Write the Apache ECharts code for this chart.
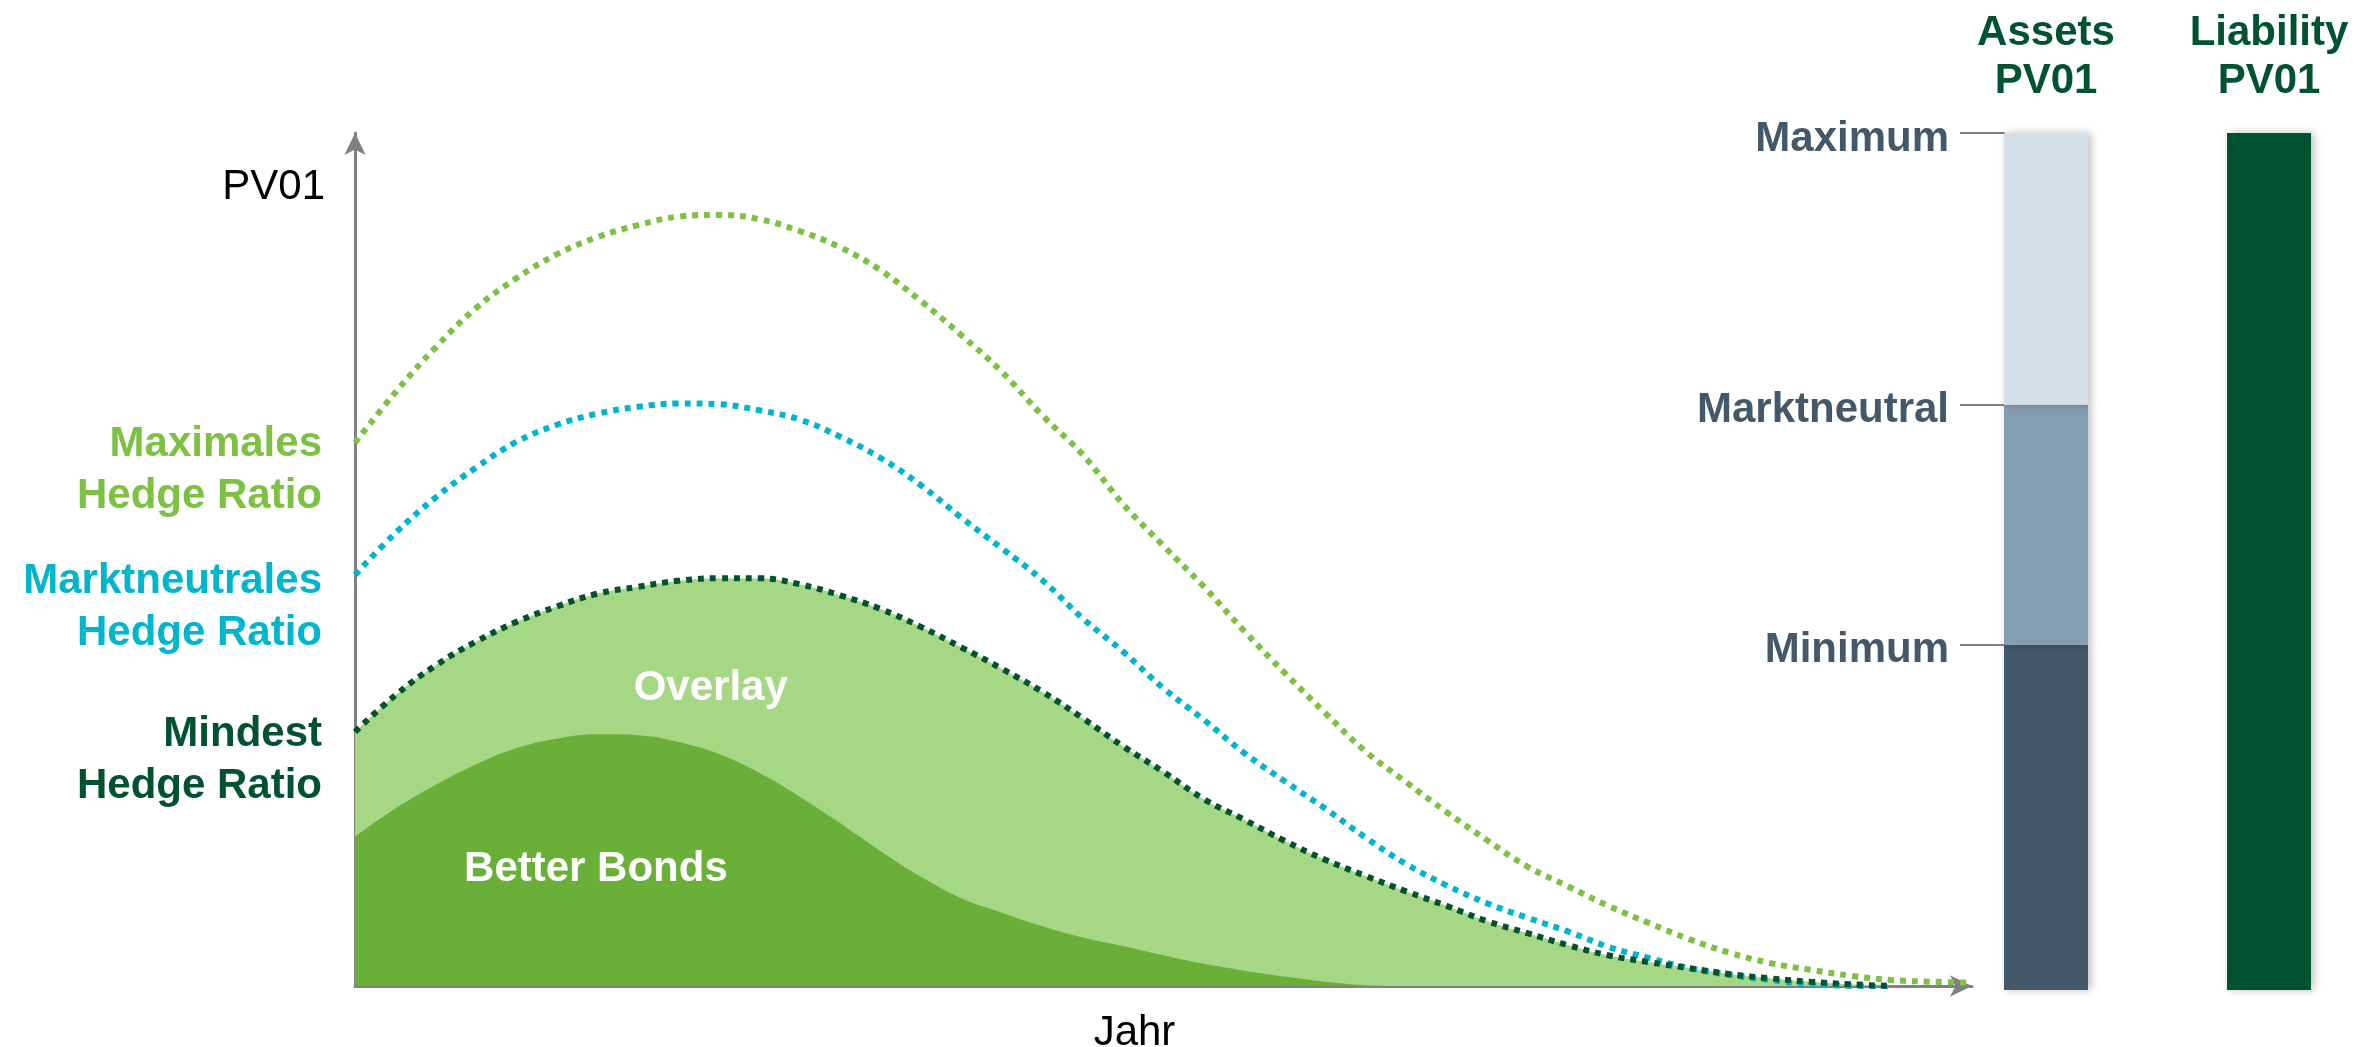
<!DOCTYPE html>
<html>
<head>
<meta charset="utf-8">
<script src="https://cdn.jsdelivr.net/npm/echarts@6/dist/echarts.min.js"></script>
<style>
  html, body { margin: 0; background: #fff; }
  #main { width: 2369px; height: 1047px; }
</style>
</head>
<body>
<div id="main"></div>
<script>
// time axis (Jahr), arbitrary units 0..100, read every 2.5
var jahr = [];
for (var k = 0; k <= 40; k++) jahr.push(k * 2.5);

// PV01 curves (0..100 scale)
var maximalesHR = [63.7, 69.6, 74.9, 79.5, 83.0, 85.8, 87.8, 89.2, 90.2, 90.4, 89.9, 88.5, 86.6, 83.9,
  80.3, 76.3, 72.0, 66.9, 62.3, 56.5, 51.6, 46.8, 41.6, 36.7, 32.0, 27.5, 23.9, 20.4, 17.1, 14.0,
  11.7, 9.4, 7.4, 5.5, 3.9, 2.7, 1.9, 1.2, 0.7, 0.5, 0.4];
var marktneutralHR = [48.2, 53.1, 57.3, 60.8, 63.8, 65.8, 67.1, 67.9, 68.3, 68.2, 67.5, 66.4, 64.4, 61.9,
  58.7, 54.9, 51.3, 47.6, 43.1, 39.2, 34.9, 31.2, 27.3, 24.0, 20.8, 17.4, 14.3, 11.8, 9.7, 8.0,
  6.4, 4.6, 3.3, 2.1, 1.3, 0.7, 0.2, 0.0, -0.2, null, null];
var mindestHR = [29.8, 34.1, 37.6, 40.4, 42.7, 44.5, 46.0, 46.8, 47.5, 47.8, 47.8, 47.1, 45.8, 44.2,
  42.1, 39.7, 37.2, 34.5, 31.4, 28.1, 25.1, 21.9, 19.5, 17.0, 14.8, 12.9, 11.1, 9.4, 7.6, 6.2,
  4.8, 3.6, 2.8, 2.1, 1.4, 0.9, 0.5, 0.2, 0.0, null, null];
var betterBonds = [17.5, 20.8, 23.6, 26.0, 27.9, 29.0, 29.5, 29.4, 28.6, 27.2, 25.0, 22.2, 19.1, 15.8,
  12.8, 10.3, 8.6, 7.0, 5.7, 4.7, 3.6, 2.6, 1.8, 1.1, 0.5, 0.1, 0.0];

// right side bars
var barCategories = ['Assets\nPV01', 'Liability\nPV01'];
var assetLevels = [40.3, 68.3, 100];            // Minimum, Marktneutral, Maximum
var assetLevelNames = ['Minimum', 'Marktneutral', 'Maximum'];
var liabilityPV01 = 100;

// left labels on the PV01 axis
var hedgeLabels = ['Maximales\nHedge Ratio', 'Marktneutrales\nHedge Ratio', 'Mindest\nHedge Ratio'];
var hedgeLabelAt = [60.4, 44.4, 26.4];
var areaLabelAt = { overlay: [22.0, 34.9], bonds: [14.9, 13.7] };
// level names sit a touch below their tick
var levelLabelAt = assetLevels.map(function (v) { return v - 0.7; });

var FONT = 'Liberation Sans, Arial, sans-serif';
var C = {
  max: '#7dc142', markt: '#00b5cc', min: '#005230',
  overlay: '#a6d785', bonds: '#6aaf37', axis: '#808080',
  slate: '#435868', aLight: '#d5dfe6', aMid: '#849fb1', aDark: '#435868', liab: '#005230'
};

function pairs(ys) {
  var out = [];
  for (var i = 0; i < ys.length; i++) {
    if (ys[i] !== null) out.push([jahr[i], ys[i]]);
  }
  return out;
}

function dotted(name, ys, color) {
  return {
    name: name, type: 'line', xAxisIndex: 0, yAxisIndex: 0,
    data: pairs(ys), smooth: 0.4, showSymbol: false, silent: true, z: 5,
    lineStyle: { color: color, width: 6, type: [6, 6], cap: 'butt' }
  };
}

var hedgeKeys = ['a', 'b', 'c'];
var segs = [assetLevels[0], assetLevels[1] - assetLevels[0], assetLevels[2] - assetLevels[1]];
var barShadow = { shadowBlur: 8, shadowColor: 'rgba(0,0,0,0.25)', shadowOffsetX: 3 };

var myChart = echarts.init(document.getElementById('main'));

var option = {
  animation: false,
  textStyle: { fontFamily: FONT },
  grid: [
    { left: 355, right: 397, top: 133, bottom: 61, outerBoundsMode: 'none', containLabel: false },
    { left: 2046, width: 223, top: 133, bottom: 57, outerBoundsMode: 'none', containLabel: false }
  ],
  xAxis: [
    {
      gridIndex: 0, type: 'value', min: 0, max: 100,
      name: 'Jahr', nameLocation: 'middle', nameGap: 26,
      nameTextStyle: { fontSize: 42, color: '#000', fontFamily: FONT, padding: [0, 58, 0, 0] },
      axisLine: { lineStyle: { color: C.axis, width: 3 }, symbol: ['none', 'arrow'], symbolSize: [16, 22] },
      axisTick: { show: false }, axisLabel: { show: false }, splitLine: { show: false }
    },
    {
      gridIndex: 1, type: 'category', data: barCategories, boundaryGap: false, position: 'top',
      axisLine: { show: false }, axisTick: { show: false }, splitLine: { show: false },
      axisLabel: {
        color: C.liab, fontSize: 42, fontWeight: 'bold', lineHeight: 48, margin: 28,
        fontFamily: FONT, interval: 0
      }
    }
  ],
  yAxis: [
    {
      gridIndex: 0, type: 'value', min: 0, max: 100,
      name: 'PV01', nameLocation: 'end', nameGap: -54,
      nameTextStyle: { fontSize: 42, color: '#000', align: 'right', verticalAlign: 'middle', padding: [0, 30, 0, 0], fontFamily: FONT },
      axisLine: { lineStyle: { color: C.axis, width: 3 }, symbol: ['none', 'arrow'], symbolSize: [16, 22] },
      axisTick: { show: false }, splitLine: { show: false },
      axisLabel: {
        customValues: hedgeLabelAt, margin: 33, align: 'right',
        formatter: function (v) {
          var i = hedgeLabelAt.indexOf(v);
          if (i < 0) return '';
          return hedgeLabels[i].split('\n').map(function (s) { return '{' + hedgeKeys[i] + '|' + s + '}'; }).join('\n');
        },
        rich: {
          a: { color: C.max, fontSize: 42, fontWeight: 'bold', lineHeight: 52, fontFamily: FONT, align: 'right' },
          b: { color: C.markt, fontSize: 42, fontWeight: 'bold', lineHeight: 52, fontFamily: FONT, align: 'right' },
          c: { color: C.min, fontSize: 42, fontWeight: 'bold', lineHeight: 52, fontFamily: FONT, align: 'right' }
        }
      }
    },
    {
      gridIndex: 1, type: 'value', min: 0, max: 100, position: 'left', offset: 41,
      axisLine: { show: false }, splitLine: { show: false },
      axisTick: { show: true, customValues: assetLevels, length: 45, lineStyle: { color: C.axis, width: 2 } },
      axisLabel: {
        customValues: levelLabelAt, margin: 56, color: C.slate, fontSize: 42, fontWeight: 'bold', fontFamily: FONT,
        formatter: function (v) {
          var i = levelLabelAt.indexOf(v);
          return i < 0 ? '' : assetLevelNames[i];
        }
      }
    }
  ],
  series: [
    {
      name: 'Overlay', type: 'line', xAxisIndex: 0, yAxisIndex: 0,
      data: pairs(mindestHR), smooth: 0.4, showSymbol: false, silent: true, z: 2,
      lineStyle: { width: 0 }, areaStyle: { color: C.overlay, opacity: 1 },
      markPoint: {
        symbol: 'circle', symbolSize: 0, silent: true,
        label: { show: true, position: 'inside', formatter: 'Overlay', color: '#fff', fontSize: 42, fontWeight: 'bold', fontFamily: FONT },
        data: [{ coord: areaLabelAt.overlay }]
      }
    },
    {
      name: 'Better Bonds', type: 'line', xAxisIndex: 0, yAxisIndex: 0,
      data: pairs(betterBonds), smooth: 0.4, showSymbol: false, silent: true, z: 3,
      lineStyle: { width: 0 }, areaStyle: { color: C.bonds, opacity: 1 },
      markPoint: {
        symbol: 'circle', symbolSize: 0, silent: true,
        label: { show: true, position: 'inside', formatter: 'Better Bonds', color: '#fff', fontSize: 42, fontWeight: 'bold', fontFamily: FONT },
        data: [{ coord: areaLabelAt.bonds }]
      }
    },
    dotted('Maximales Hedge Ratio', maximalesHR, C.max),
    dotted('Marktneutrales Hedge Ratio', marktneutralHR, C.markt),
    dotted('Mindest Hedge Ratio', mindestHR, C.min),
    {
      name: 'Minimum', type: 'bar', xAxisIndex: 1, yAxisIndex: 1, stack: 'pv', barWidth: 84,
      data: [segs[0], '-'], itemStyle: Object.assign({ color: C.aDark }, barShadow)
    },
    {
      name: 'Marktneutral', type: 'bar', xAxisIndex: 1, yAxisIndex: 1, stack: 'pv', barWidth: 84,
      data: [segs[1], '-'], itemStyle: Object.assign({ color: C.aMid }, barShadow)
    },
    {
      name: 'Maximum', type: 'bar', xAxisIndex: 1, yAxisIndex: 1, stack: 'pv', barWidth: 84,
      data: [segs[2], '-'], itemStyle: Object.assign({ color: C.aLight }, barShadow)
    },
    {
      name: 'Liability PV01', type: 'bar', xAxisIndex: 1, yAxisIndex: 1, stack: 'pv', barWidth: 86,
      data: ['-', liabilityPV01], itemStyle: Object.assign({ color: C.liab }, barShadow)
    }
  ]
};

myChart.setOption(option);
</script>
</body>
</html>
